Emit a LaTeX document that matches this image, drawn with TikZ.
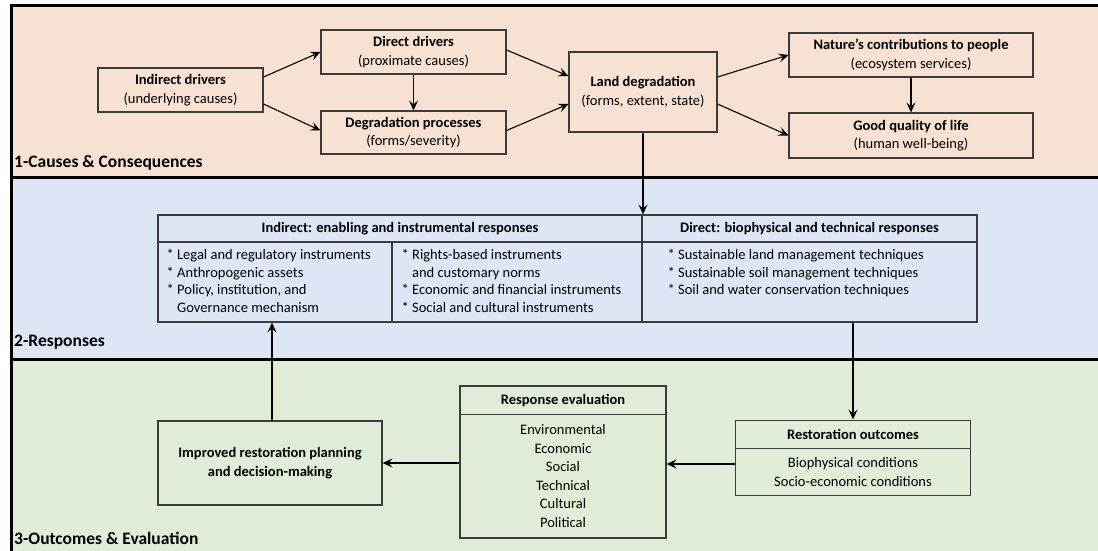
\documentclass[tikz,border=0pt]{standalone}
\usepackage{fontspec}
\setmainfont{Carlito}
\usetikzlibrary{arrows.meta,calc}
\definecolor{peach}{RGB}{247,225,211}
\definecolor{paleblue}{RGB}{221,230,245}
\definecolor{palegreen}{RGB}{225,236,216}
\definecolor{boxline}{RGB}{60,60,60}
\newcommand\fs{\fontsize{14.5}{18.5}\selectfont}
\newcommand\fsl{\fontsize{14.5}{17.5}\selectfont}
\tikzset{
	box/.style={draw=boxline, line width=1.1pt, align=center, inner sep=0pt, font=\fs},
	hbox/.style={box, font=\fs\bfseries},
	lst/.style={anchor=north west, inner sep=0pt, align=left, font=\fsl},
	arr/.style={-{Stealth[length=10pt,width=9pt,inset=4pt]}, line width=1.1pt},
	band/.style={line width=3pt},
	sectitle/.style={anchor=west, inner sep=0pt, font=\fontsize{17.5}{21}\selectfont\bfseries}
}

\begin{document}
\begin{tikzpicture}[x=1pt, y=-1pt]
		%%%%% START %%%%%
		\useasboundingbox (0,0) rectangle (1098,551);
		
		\fill[peach] (11,6) rectangle (1098,177);
		\fill[paleblue] (11,177) rectangle (1098,359);
		\fill[palegreen] (11,359) rectangle (1098,551);
		\draw[band] (1098,6) -- (11,6) -- (11,551);
		\draw[band] (11,177) -- (1098,177);
		\draw[band] (11,359) -- (1098,359);
		
		%%%%% 1-Causes & Consequences %%%%%
		\node[box, minimum width=165pt, minimum height=44pt] (indrv) at (180.5,90) {\textbf{Indirect drivers}\\(underlying causes)};
		\node[box, minimum width=185pt, minimum height=44pt] (dirdrv) at (413.5,52) {\textbf{Direct drivers}\\(proximate causes)};
		\node[box, minimum width=185pt, minimum height=43pt] (degproc) at (413.5,132.5) {\textbf{Degradation processes}\\(forms/severity)};
		\node[box, minimum width=148pt, minimum height=80pt] (landdeg) at (643,92) {\textbf{Land degradation}\\(forms, extent, state)};
		\node[box, minimum width=244pt, minimum height=44pt] (ncp) at (911,55) {\textbf{Nature’s contributions to people}\\(ecosystem services)};
		\node[box, minimum width=244pt, minimum height=45pt] (goodlife) at (911,135.5) {\textbf{Good quality of life}\\(human well-being)};
		
		\draw[arr] ([yshift=13pt]indrv.east) -- (dirdrv.west);
		\draw[arr] ([yshift=-14pt]indrv.east) -- ([yshift=2pt]degproc.west);
		\draw[arr] (dirdrv) -- (degproc);
		\draw[arr] ([yshift=2pt]dirdrv.east) -- ([yshift=16pt]landdeg.west);
		\draw[arr] ([yshift=2pt]degproc.east) -- ([yshift=-12pt]landdeg.west);
		\draw[arr] ([yshift=15pt]landdeg.east) -- (ncp.west);
		\draw[arr] ([yshift=-12pt]landdeg.east) -- (goodlife.west);
		\draw[arr] (ncp) -- (goodlife);
		
		\node[sectitle] (lbl1) at (14,163) {1-Causes \& Consequences};
		
		%%%%% 2-Responses %%%%%
		\node[hbox, minimum width=484pt, minimum height=27pt] (indhd) at (400,228.5) {Indirect: enabling and instrumental responses};
		\node[hbox, minimum width=335pt, minimum height=27pt] (dirhd) at (809.5,228.5) {Direct: biophysical and technical responses};
		\node[box, minimum width=234pt, minimum height=80pt] (indbodyA) at (275,282) {};
		\node[box, minimum width=250pt, minimum height=80pt] (indbodyB) at (517,282) {};
		\node[box, minimum width=335pt, minimum height=80pt] (dirbody) at (809.5,282) {};
		
		\node[lst] (lstA) at ([xshift=9pt,yshift=-6pt]indbodyA.north west) {\strut* Legal and regulatory instruments\\{}* Anthropogenic assets\\{}* Policy, institution, and\\\hphantom{* }Governance mechanism};
		\node[lst] (lstB) at ([xshift=10pt,yshift=-6pt]indbodyB.north west) {\strut* Rights-based instruments\\\hphantom{* }and customary norms\\{}* Economic and financial instruments\\{}* Social and cultural instruments};
		\node[lst] (lstC) at ([xshift=26pt,yshift=-6pt]dirbody.north west) {\strut* Sustainable land management techniques\\{}* Sustainable soil management techniques\\{}* Soil and water conservation techniques};
		
		\draw[arr] (landdeg.south) -- (landdeg.south |- indhd.north);
		
		\node[sectitle] (lbl2) at (14,342) {2-Responses};
		
		%%%%% 3-Outcomes & Evaluation %%%%%
		\node[hbox, minimum width=235pt, minimum height=28.5pt] (resthd) at (853,434.3) {Restoration outcomes};
		\node[box, minimum width=235pt, minimum height=46.7pt] (restbody) at (853,472) {Biophysical conditions\\Socio-economic conditions};
		\node[hbox, minimum width=206pt, minimum height=28.5pt] (evalhd) at (563,400.25) {Response evaluation};
		\node[box, minimum width=206pt, minimum height=123.5pt] (evalbody) at (563,476.25) {Environmental\\Economic\\Social\\Technical\\Cultural\\Political};
		\node[hbox, minimum width=224pt, minimum height=84pt] (improved) at (270,463) {Improved restoration planning\\and decision-making};
		
		\draw[arr] (dirbody.south -| resthd.north) -- (resthd.north);
		\draw[arr] ([yshift=8pt]restbody.west) -- ([yshift=8pt]restbody.west -| evalbody.east);
		\draw[arr] (evalbody.west |- improved.east) -- (improved.east);
		\draw[arr] ([xshift=2pt]improved.north) -- ([xshift=2pt]improved.north |- indbodyA.south);
		
		\node[sectitle] (lbl3) at (14,538) {3-Outcomes \& Evaluation};
		
		%%%%% END %%%%%
\end{tikzpicture}
\end{document}
